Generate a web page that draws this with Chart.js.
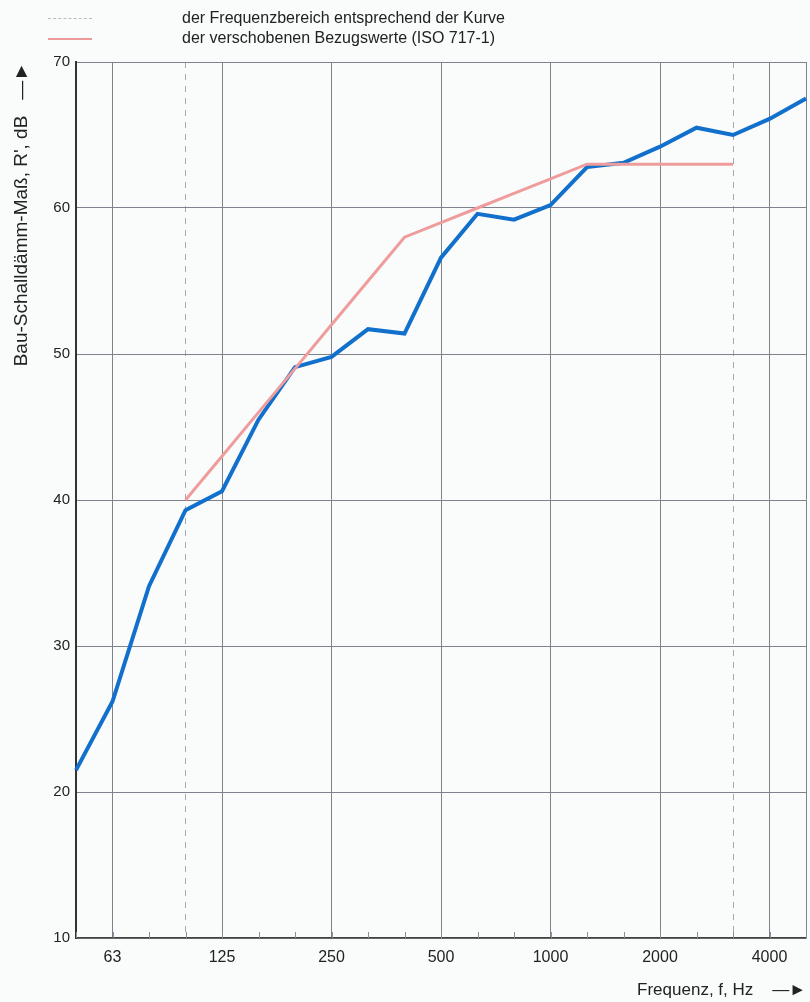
<!DOCTYPE html>
<html>
<head>
<meta charset="utf-8">
<script src="https://cdn.jsdelivr.net/npm/chart.js@4.4.0/dist/chart.umd.min.js"></script>
<style>
html, body { margin: 0; padding: 0; background: #fafbfb; }
#wrap { position: relative; width: 810px; height: 1002px; }
canvas { display: block; }
.legend-row { position: absolute; left: 0; height: 20px; font-family: 'Liberation Sans', Arial, sans-serif; font-size: 16px; color: #222; white-space: nowrap; }
.legend-row span.text { position: absolute; left: 182px; top: 0; line-height: 20px; }
.legend-row span.sample { position: absolute; left: 48px; top: 10px; width: 44px; height: 0; }
</style>
</head>
<body>
<div id="wrap">
  <canvas id="chart" width="810" height="1002"></canvas>
  <div class="legend-row" style="top:8px">
    <span class="sample" style="border-top:1px dashed #b8bcc2"></span>
    <span class="text">der Frequenzbereich entsprechend der Kurve</span>
  </div>
  <div class="legend-row" style="top:28px">
    <span class="sample" style="border-top:2px solid #ee9a9a"></span>
    <span class="text">der verschobenen Bezugswerte (ISO 717-1)</span>
  </div>
</div>
<script>
// Terzbänder
const bands = ['50', '63', '80', '100', '125', '160', '200', '250', '315', '400', '500',
               '630', '800', '1000', '1250', '1600', '2000', '2500', '3150', '4000', '5000'];
const tickLabels = ['63', '125', '250', '500', '1000', '2000', '4000'];
const gridBands = ['63', '125', '250', '500', '1000', '2000', '4000', '5000'];
const dashedBands = ['100', '3150'];
const yTicks = [10, 20, 30, 40, 50, 60, 70];

// Messkurve R'
const measured = [21.5, 26.2, 34.1, 39.3, 40.6, 45.5, 49.1, 49.8, 51.7, 51.4, 56.6,
                  59.6, 59.2, 60.2, 62.8, 63.1, 64.2, 65.5, 65.0, 66.1, 67.5];
// verschobene Bezugswerte ISO 717-1 (100 - 3150 Hz)
const reference = [null, null, null, 40, 43, 46, 49, 52, 55, 58, 59,
                   60, 61, 62, 63, 63, 63, 63, 63, null, null];

const sans = "'Liberation Sans', Arial, sans-serif";

// kleine Striche an der x-Achse für jedes Terzband
const minorTicks = {
    id: 'minorTicks',
    afterDatasetsDraw(chart) {
        const x = chart.scales.x;
        const bottom = chart.chartArea.bottom;
        const ctx = chart.ctx;
        ctx.save();
        ctx.strokeStyle = '#8a8e96';
        ctx.lineWidth = 1;
        bands.forEach((b, i) => {
            const px = Math.round(x.getPixelForValue(i)) + 0.5;
            ctx.beginPath();
            ctx.moveTo(px, bottom);
            ctx.lineTo(px, bottom - 6);
            ctx.stroke();
        });
        ctx.restore();
    }
};

new Chart(document.getElementById('chart'), {
    type: 'line',
    data: {
        labels: bands,
        datasets: [
            {
                label: 'Bezugswerte',
                data: reference,
                borderColor: '#ef9c9c',
                borderWidth: 3,
                pointRadius: 0,
                tension: 0,
                spanGaps: false
            },
            {
                label: 'Messung',
                data: measured,
                borderColor: '#1170cc',
                borderWidth: 4,
                pointRadius: 0,
                tension: 0
            }
        ]
    },
    options: {
        responsive: false,
        animation: false,
        layout: { padding: { top: 62, right: 4, left: 0, bottom: 0 } },
        plugins: {
            legend: { display: false },
            tooltip: { enabled: false }
        },
        scales: {
            x: {
                type: 'category',
                offset: false,
                afterFit(s) {
                    s.height = 64;
                    s.paddingLeft = 0;
                    s.paddingRight = 0;
                },
                grid: {
                    drawTicks: false,
                    lineWidth: 1,
                    color(ctx) {
                        const b = bands[ctx.index];
                        if (gridBands.includes(b)) return '#7d828c';
                        if (dashedBands.includes(b)) return '#a4a8b0';
                        return 'rgba(0,0,0,0)';
                    }
                },
                border: {
                    color: '#444',
                    width: 1.5,
                    dash(ctx) {
                        return dashedBands.includes(bands[ctx.index]) ? [6, 6] : [];
                    }
                },
                ticks: {
                    autoSkip: false,
                    maxRotation: 0,
                    padding: 10,
                    color: '#222',
                    font: { family: sans, size: 16 },
                    callback(value, index) {
                        const b = bands[index];
                        return tickLabels.includes(b) ? b : '';
                    }
                },
                title: {
                    display: true,
                    text: 'Frequenz, f, Hz    —►',
                    align: 'end',
                    color: '#222',
                    font: { family: sans, size: 17 },
                    padding: { top: 0, bottom: 1 }
                }
            },
            y: {
                min: 10,
                max: 70,
                afterFit(s) { s.width = 76; },
                afterBuildTicks(s) { s.ticks = yTicks.map(v => ({ value: v })); },
                grid: {
                    drawTicks: false,
                    color: '#7d828c',
                    lineWidth: 1
                },
                border: { color: '#333', width: 2 },
                ticks: {
                    padding: 6,
                    color: '#222',
                    font: { family: sans, size: 15 }
                },
                title: {
                    display: true,
                    text: "Bau-Schalldämm-Maß, R', dB   —►",
                    align: 'end',
                    color: '#222',
                    font: { family: sans, size: 19 },
                    padding: { top: 10, bottom: 0 }
                }
            }
        }
    },
    plugins: [minorTicks]
});
</script>
</body>
</html>
